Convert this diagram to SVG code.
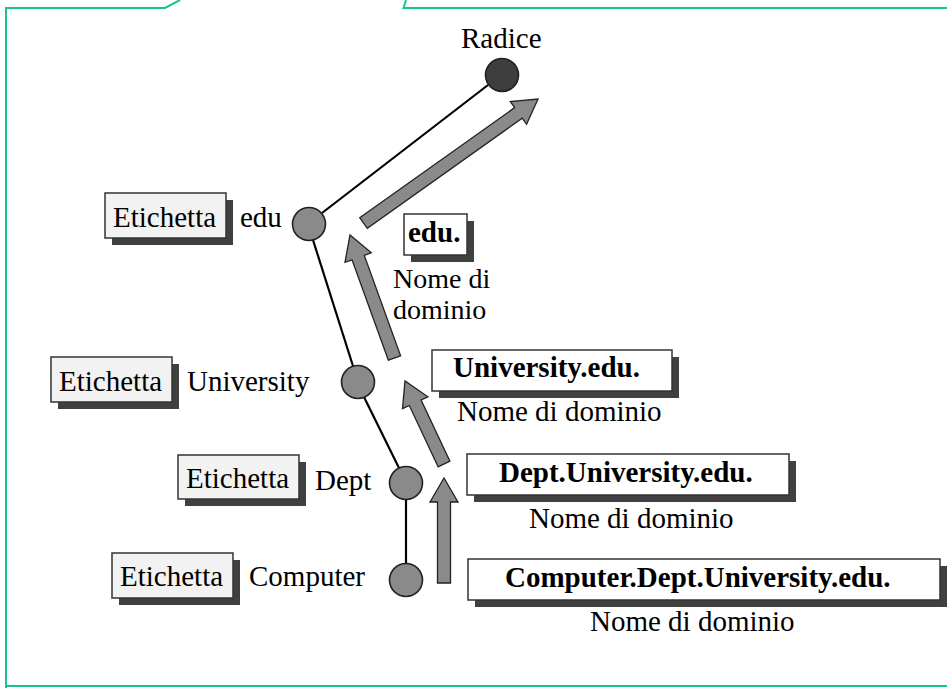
<svg xmlns="http://www.w3.org/2000/svg" width="947" height="688" viewBox="0 0 947 688">
<style>
text{font-family:"Liberation Serif","Times New Roman",serif;font-size:29px;fill:#000}
.b{font-weight:bold}
.s{font-size:28px}
.frame{fill:none;stroke:#14c493;stroke-width:2}
.edge{stroke:#000;stroke-width:2.2;fill:none}
.node{fill:#8a8a8a;stroke:#222;stroke-width:1.6}
.root{fill:#3e3e3e;stroke:#222;stroke-width:1.6}
.arrow{fill:#8a8a8a;stroke:#222;stroke-width:1.3;stroke-linejoin:miter}
.lab{fill:#f2f2f2;stroke:#333;stroke-width:1.5}
.name{fill:#fff;stroke:#333;stroke-width:1.5}
.sh{fill:#404040}
</style>
<rect width="947" height="688" fill="#fff"/>
<g id="frame">
<polyline class="frame" points="6,688 6,8 165,8 180,0"/>
<polyline class="frame" points="406,0 403.5,8 947,8"/>
<line class="frame" x1="6" y1="686" x2="947" y2="686"/>
</g>
<g id="connectors">
<line class="edge" x1="322" y1="213" x2="488" y2="85"/>
<line class="edge" x1="313" y1="240" x2="353" y2="366"/>
<line class="edge" x1="364" y1="397" x2="399" y2="468"/>
<line class="edge" x1="406" y1="500" x2="406" y2="563"/>
<polygon class="arrow" points="359.7,217.7 514.7,107.6 510.3,101.5 538,99 526.6,124.3 522.2,118.2 367.3,228.3"/>
<polygon class="arrow" points="388.4,360.2 352,259.8 345,262.3 350,235 371.3,252.8 364.3,255.4 400.6,355.8"/>
<polygon class="arrow" points="438.1,466.8 409.3,405.5 402.5,408.7 405,381 427.9,396.8 421.1,400 449.9,461.2"/>
<polygon class="arrow" points="437.5,583 437.5,502 430,502 444,478 458,502 450.5,502 450.5,583"/>
</g>
<g id="root">
<text x="461" y="48">Radice</text>
<circle class="root" cx="502" cy="75" r="16.5"/>
</g>
<g id="edu">
<rect class="sh" x="112" y="200" width="121" height="45"/>
<rect class="lab" x="105" y="193" width="121" height="45"/>
<text x="113" y="227">Etichetta</text>
<text x="240" y="227">edu</text>
<circle class="node" cx="309" cy="224" r="16.5"/>
</g>
<g id="edu-name">
<rect class="sh" x="411" y="221" width="63" height="41"/>
<rect class="name" x="404" y="214" width="63" height="41"/>
<text class="b" x="408" y="242">edu.</text>
<text class="s" x="393" y="288">Nome di</text>
<text class="s" x="393" y="319">dominio</text>
</g>
<g id="university">
<rect class="sh" x="58" y="364" width="121" height="45"/>
<rect class="lab" x="51" y="357" width="121" height="45"/>
<text x="59" y="391">Etichetta</text>
<text x="187" y="391">University</text>
<circle class="node" cx="358" cy="382" r="16.5"/>
</g>
<g id="university-name">
<rect class="sh" x="439" y="357" width="240" height="41"/>
<rect class="name" x="432" y="350" width="240" height="41"/>
<text class="b" x="453" y="377">University.edu.</text>
<text x="457" y="421">Nome di dominio</text>
</g>
<g id="dept">
<rect class="sh" x="185" y="462" width="121" height="44"/>
<rect class="lab" x="178" y="455" width="121" height="44"/>
<text x="186" y="488">Etichetta</text>
<text x="315" y="490">Dept</text>
<circle class="node" cx="406" cy="483" r="16.5"/>
</g>
<g id="dept-name">
<rect class="sh" x="474" y="461" width="322" height="41"/>
<rect class="name" x="467" y="454" width="322" height="41"/>
<text class="b" x="499" y="482">Dept.University.edu.</text>
<text x="529" y="528">Nome di dominio</text>
</g>
<g id="computer">
<rect class="sh" x="119" y="560" width="121" height="45"/>
<rect class="lab" x="112" y="553" width="121" height="45"/>
<text x="120" y="586">Etichetta</text>
<text x="249" y="586">Computer</text>
<circle class="node" cx="406" cy="580" r="16.5"/>
</g>
<g id="computer-name">
<rect class="sh" x="475" y="566" width="472" height="41"/>
<rect class="name" x="468" y="559" width="472" height="41"/>
<text class="b" x="505" y="587">Computer.Dept.University.edu.</text>
<text x="590" y="631">Nome di dominio</text>
</g>
</svg>
